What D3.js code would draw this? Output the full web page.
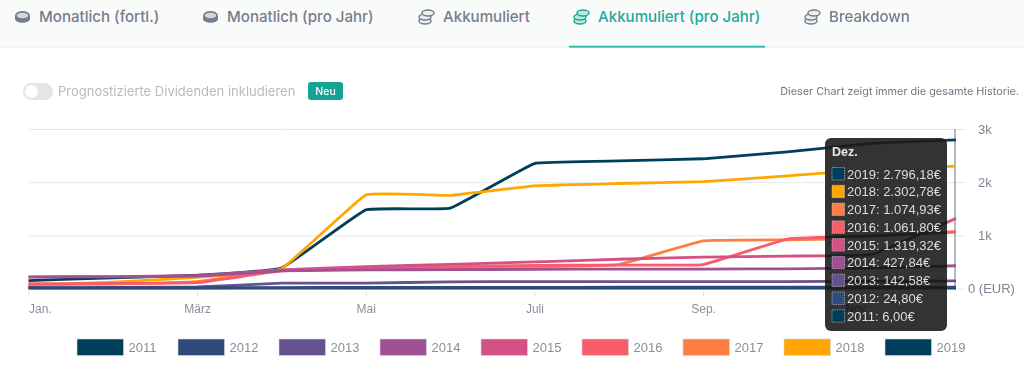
<!DOCTYPE html>
<html lang="de">
<head>
<meta charset="utf-8">
<title>Akkumuliert (pro Jahr)</title>
<script src="https://cdn.jsdelivr.net/npm/d3@7"></script>
<style>
  html, body { margin: 0; padding: 0; background: #fff; overflow: hidden; }
  svg { display: block; filter: blur(0.5px); }
</style>
</head>
<body>
<script>
// Donnees
const months = ['Jan.', 'Feb.', 'März', 'Apr.', 'Mai', 'Juni', 'Juli', 'Aug.', 'Sep.', 'Okt.', 'Nov.', 'Dez.']
const monthTicks = ['Jan.', 'März', 'Mai', 'Juli', 'Sep.']
const yTicks = [0, 1000, 2000, 3000]
const years = ['2011', '2012', '2013', '2014', '2015', '2016', '2017', '2018', '2019']
const colours = ['#003f5c', '#2f4b7c', '#665191', '#a05195', '#d45087', '#f95d6a', '#ff7c43', '#ffa600', '#003f5c']

const v2011 = [6, 6, 6, 6, 6, 6, 6, 6, 6, 6, 6, 6]
const v2012 = [10, 12, 14, 18, 20, 22, 22, 24, 24, 24, 24, 24.8]
const v2013 = [15, 20, 30, 100, 100, 125, 130, 130, 130, 130, 135, 142.58]
const v2014 = [215, 220, 235, 330, 350, 355, 360, 365, 365, 370, 385, 427.84]
const v2015 = [220, 225, 240, 350, 410, 455, 500, 550, 590, 610, 640, 1319.32]
const v2016 = [90, 95, 110, 330, 375, 410, 435, 440, 450, 930, 990, 1061.8]
const v2017 = [70, 85, 130, 340, 365, 390, 410, 450, 895, 915, 950, 1074.93]
const v2018 = [60, 120, 210, 370, 1760, 1750, 1930, 1975, 2010, 2120, 2240, 2302.78]
const v2019 = [150, 200, 250, 385, 1480, 1510, 2350, 2400, 2440, 2570, 2730, 2796.18]
const seriesValues = [v2011, v2012, v2013, v2014, v2015, v2016, v2017, v2018, v2019]

const tabLabels = ['Monatlich (fortl.)', 'Monatlich (pro Jahr)', 'Akkumuliert', 'Akkumuliert (pro Jahr)', 'Breakdown']
const tabIcons = ['coin', 'coin', 'stack', 'stack', 'stack']
const activeTab = 3
const toggleLabel = 'Prognostizierte Dividenden inkludieren'
const badgeLabel = 'Neu'
const noteLabel = 'Dieser Chart zeigt immer die gesamte Historie.'
const tooltipTitle = 'Dez.'
const euro = d3.formatLocale({ decimal: ',', thousands: '.', grouping: [3], currency: ['', '€'] }).format(',.2f')

//____________________________________________________//
// Dimensions

const width = 1024
const height = 367
const plot = { left: 28.5, right: 956, top: 129, bottom: 288.5 }
const teal = '#2ab5a5'
const inter = 'Inter, "Noto Sans", sans-serif'
const helv = '"Liberation Sans", Arial, sans-serif'

const svg = d3.select('body').append('svg')
  .attr('width', width)
  .attr('height', height)
  .attr('font-family', inter)

const x = d3.scalePoint().domain(months).range([plot.left, plot.right])
const y = d3.scaleLinear().domain([0, 3000]).range([plot.bottom, plot.top])

const line = d3.line()
  .x((d, i) => x(months[i]))
  .y(d => y(d))
  .curve(d3.curveCardinal.tension(0.75))

//____________________________________________________//
// Onglets

svg.append('rect').attr('width', width).attr('height', 47).attr('fill', '#f9fafa')
svg.append('line').attr('x1', 0).attr('x2', width).attr('y1', 47).attr('y2', 47)
  .attr('stroke', '#eef0f1').attr('stroke-width', 1.5)

const tabX = [39, 227, 443, 598, 829]
const tabColor = i => i === activeTab ? '#1fa99a' : '#777d8d'

tabLabels.forEach((label, i) => {
  const g = svg.append('g').attr('transform', `translate(${tabX[i] - 16.5},17)`)
  const c = tabColor(i)
  if (tabIcons[i] === 'coin') {
    g.append('path').attr('d', 'M-7.5,-1v3c0,2 3.4,3.8 7.5,3.8s7.5,-1.8 7.5,-3.8v-3').attr('fill', c)
    g.append('ellipse').attr('cx', 0).attr('cy', -1.5).attr('rx', 6.6).attr('ry', 3.6)
      .attr('fill', '#d5d7dc').attr('stroke', c).attr('stroke-width', 1.8)
  } else {
    ;[4, 0, -4].forEach((dy, k) => {
      g.append('ellipse').attr('cx', k === 2 ? 1.5 : -1.5).attr('cy', dy).attr('rx', 6).attr('ry', 3)
        .attr('fill', i === activeTab ? '#bfe6e1' : '#eceef0').attr('stroke', c).attr('stroke-width', 1.5)
    })
  }
  svg.append('text')
    .attr('x', tabX[i]).attr('y', 22)
    .attr('font-size', 15.1).attr('font-weight', 500)
    .attr('fill', c)
    .text(label)
})

svg.append('rect').attr('x', 569).attr('y', 45.8).attr('width', 196).attr('height', 1.8).attr('fill', teal)

//____________________________________________________//
// Ligne du toggle

svg.append('rect').attr('x', 23).attr('y', 83).attr('width', 30).attr('height', 17).attr('rx', 8.5).attr('fill', '#e3e5e9')
svg.append('circle').attr('cx', 31.5).attr('cy', 91.5).attr('r', 6.5).attr('fill', '#fff')
svg.append('text').attr('x', 58).attr('y', 95.5).attr('font-size', 13).attr('fill', '#b6bac3').text(toggleLabel)
svg.append('rect').attr('x', 308).attr('y', 82).attr('width', 35).attr('height', 18).attr('rx', 3).attr('fill', '#14a394')
svg.append('text').attr('x', 325.5).attr('y', 95).attr('text-anchor', 'middle').attr('font-size', 10.5).attr('font-weight', 500).attr('fill', '#fff').text(badgeLabel)
svg.append('text').attr('x', 1019).attr('y', 95).attr('text-anchor', 'end').attr('font-size', 10.85).attr('fill', '#6f7583').text(noteLabel)

//____________________________________________________//
// Axes

const yAxis = svg.append('g')
  .attr('transform', `translate(${plot.left},0)`)
  .call(d3.axisRight(y).tickValues(yTicks).tickSize(937).tickFormat(d => d === 0 ? '0 (EUR)' : (d / 1000) + 'k'))
yAxis.select('.domain').remove()
yAxis.selectAll('.tick line')
  .attr('x1', d => d === 0 ? 928 : 0)
  .attr('stroke', '#e7e8ea')
yAxis.selectAll('.tick text')
  .attr('x', d => d === 0 ? 939.5 : 949.5)
  .attr('font-size', 13)
  .attr('font-family', helv)
  .attr('fill', '#7f8492')

const xAxis = svg.append('g')
  .attr('transform', `translate(0,${plot.bottom + 3})`)
  .call(d3.axisBottom(x).tickValues(monthTicks).tickSize(5).tickPadding(8))
xAxis.select('.domain').remove()
xAxis.selectAll('.tick line').attr('stroke', '#dfe0e3')
xAxis.selectAll('.tick text')
  .attr('font-size', 12)
  .attr('font-family', helv)
  .attr('fill', '#8b8f9b')
  .attr('text-anchor', d => d === 'Jan.' ? 'start' : 'middle')

svg.append('line')
  .attr('x1', 955).attr('x2', 955).attr('y1', plot.top).attr('y2', plot.bottom + 1)
  .attr('stroke', '#9da2ae').attr('stroke-width', 1.5)

//____________________________________________________//
// Courbes, 2019 dessous, 2011 puis 2012 dessus

const rows = years.map((year, i) => ({ year, colour: colours[i], values: seriesValues[i] }))
const drawOrder = ['2019', '2018', '2017', '2016', '2015', '2014', '2013', '2011', '2012']

svg.append('g').attr('fill', 'none').attr('stroke-width', 2.8).attr('stroke-linejoin', 'round')
  .selectAll('path')
  .data(drawOrder.map(year => rows.find(d => d.year === year)))
  .join('path')
  .attr('stroke', d => d.colour)
  .attr('d', d => line(d.values))

//____________________________________________________//
// Tooltip

const tip = { x: 825, y: 138, w: 122, h: 193 }

svg.append('rect')
  .attr('x', tip.x).attr('y', tip.y).attr('width', tip.w).attr('height', tip.h).attr('rx', 6)
  .attr('fill', '#333333')

// les courbes transparaissent en noir a travers le tooltip
svg.append('clipPath').attr('id', 'tip-clip')
  .append('rect').attr('x', tip.x).attr('y', tip.y).attr('width', tip.w).attr('height', tip.h).attr('rx', 6)

svg.append('g').attr('clip-path', 'url(#tip-clip)').attr('fill', 'none').attr('stroke', '#1c1c1c').attr('stroke-width', 2.6)
  .selectAll('path')
  .data(rows.filter(d => d.year !== '2018' && d.year !== '2017'))
  .join('path')
  .attr('d', d => line(d.values))

svg.append('text').attr('x', x('Nov.') - 15).attr('y', 312)
  .attr('text-anchor', 'middle').attr('font-size', 11)
  .attr('font-family', helv).attr('fill', '#1c1c1c').text('Nov.')

svg.append('text').attr('x', 832).attr('y', 156)
  .attr('font-size', 12.5).attr('font-weight', 700)
  .attr('font-family', helv).attr('fill', '#e6e6e6').text(tooltipTitle)

const rowY = d3.scaleBand().domain(rows.map(d => d.year).reverse()).range([165, 325])

const tipRows = svg.append('g').selectAll('g')
  .data(rows.slice().reverse())
  .join('g')
  .attr('transform', d => `translate(832,${rowY(d.year)})`)

tipRows.append('rect')
  .attr('y', 2.5).attr('width', 12.5).attr('height', 12.5)
  .attr('fill', d => d.colour)
  .attr('stroke', '#d8d8d8').attr('stroke-width', 0.6).attr('stroke-dasharray', '1.5 1')

tipRows.append('text')
  .attr('x', 15).attr('y', 13.5)
  .attr('font-size', 13)
  .attr('font-family', helv)
  .attr('fill', '#dcdcdc')
  .text(d => `${d.year}: ${euro(d.values[11])}€`)

//____________________________________________________//
// Legende

const legendX = d3.scalePoint().domain(years).range([77, 885])

const legend = svg.append('g').selectAll('g')
  .data(rows)
  .join('g')
  .attr('transform', d => `translate(${legendX(d.year)},339)`)

legend.append('rect')
  .attr('width', 46.5).attr('height', 16.5)
  .attr('fill', d => d.colour)
  .attr('stroke', '#d5d8de').attr('stroke-width', 0.6)

legend.append('text')
  .attr('x', 51.5).attr('y', 12.8)
  .attr('font-size', 13)
  .attr('font-family', helv)
  .attr('fill', '#8b8f9b')
  .text(d => d.year)
</script>
</body>
</html>
